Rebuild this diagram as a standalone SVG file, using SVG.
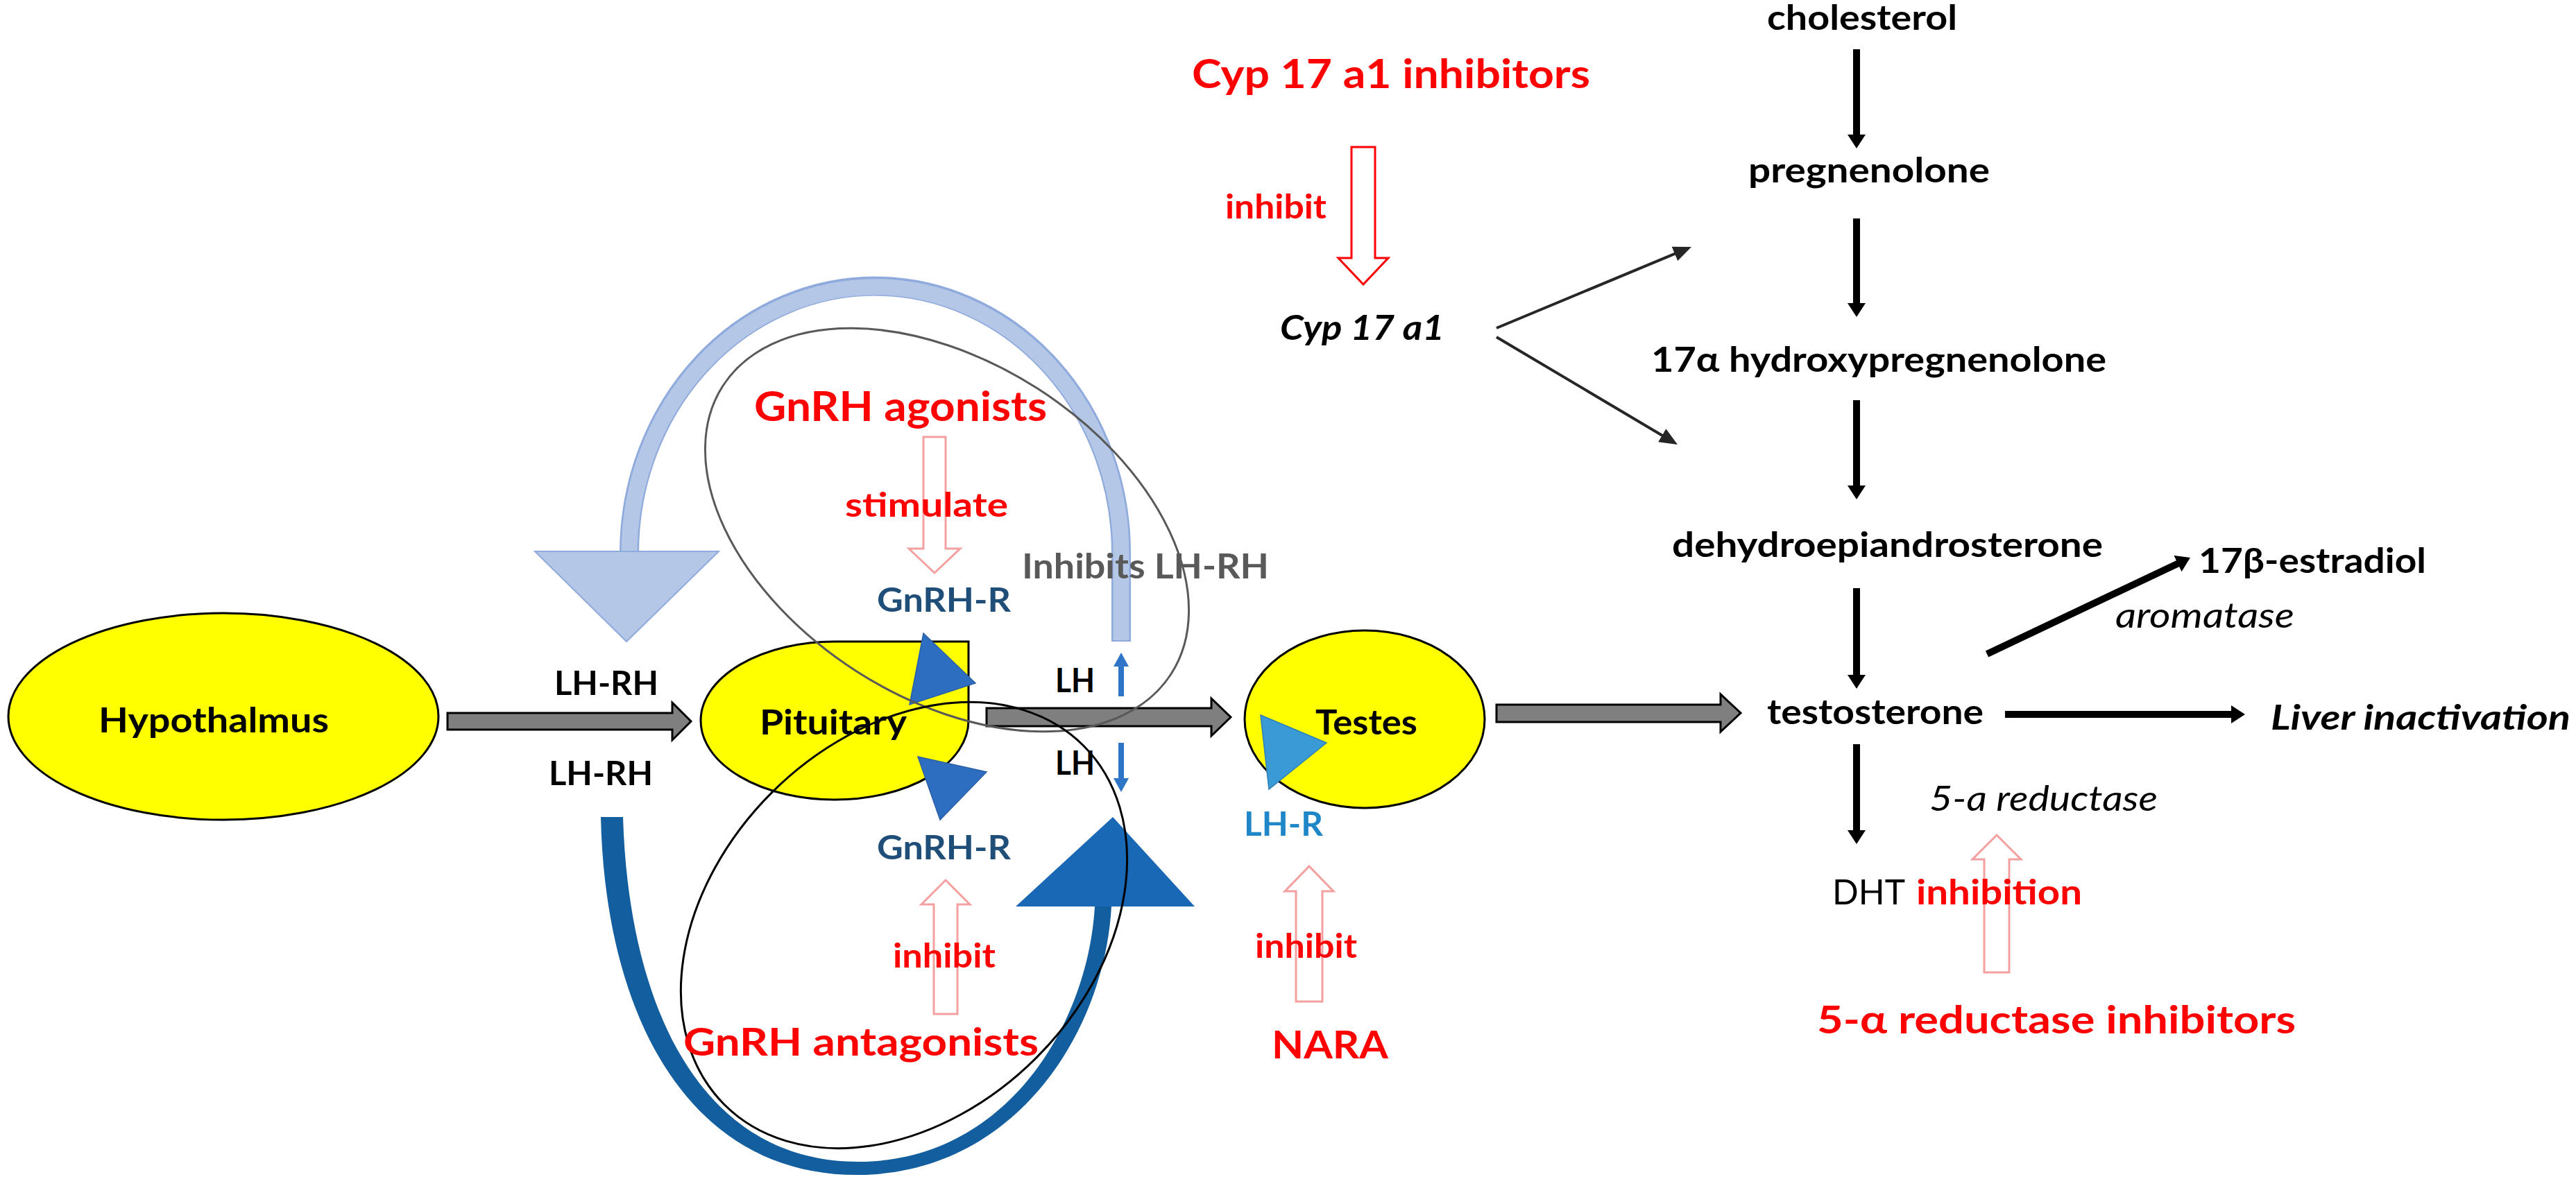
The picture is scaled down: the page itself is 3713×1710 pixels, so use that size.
<svg xmlns="http://www.w3.org/2000/svg" width="3713" height="1710" viewBox="0 0 3713 1710">
<defs>
<style>
text{font-family:Lato,"Liberation Sans",sans-serif;font-weight:700;fill:#000}
.n{font-weight:400}
.i{font-style:italic}
.red{fill:#ff0000}
.gr{fill:#1f4e79}
.lr{fill:#1f87c8}
.gy{fill:#595959}
.yel{fill:#ffff00;stroke:#000;stroke-width:3}
.garr{fill:#7f7f7f;stroke:#000;stroke-width:3;stroke-linejoin:miter}
.hol{fill:#fff;stroke:#f4a0a0;stroke-width:3}
.holr{fill:#fff;stroke:#ff0000;stroke-width:3}
.blk{stroke:#000;stroke-width:10;fill:none}
.thin{stroke:#262626;stroke-width:4;fill:none}
.tri{fill:#2e6ec1;stroke:#2a5fa8;stroke-width:1.5}
</style>
<marker id="mh" markerUnits="userSpaceOnUse" markerWidth="22" markerHeight="26" refX="4" refY="13" orient="auto"><path d="M0,0 L20,13 L0,26 Z" fill="#000"/></marker>
<marker id="mt" markerUnits="userSpaceOnUse" markerWidth="28" markerHeight="22" refX="2" refY="11" orient="auto"><path d="M0,0 L26,11 L0,22 Z" fill="#262626"/></marker>
</defs>
<rect width="3713" height="1710" fill="#fff"/>

<g id="connectors">
  <!-- light blue feedback arc -->
  <path d="M907 795 A354.5 385 0 0 1 1616 800 L1616 925" fill="none" stroke="#8faadc" stroke-width="28"/>
  <path d="M907 797 A354.5 385 0 0 1 1616 800 L1616 923" fill="none" stroke="#b4c7e7" stroke-width="23"/>
  <polygon points="771,795 1036,795 903,925" fill="#b4c7e7" stroke="#8faadc" stroke-width="2"/>
  <!-- dark blue arc -->
  <path d="M866 1178 C872 1460 990 1697 1240 1694 C1462 1691 1592 1490 1602 1307 L1578 1307 C1568 1478 1450 1673 1240 1675 C1010 1677 906 1450 898 1178 Z" fill="#135e9e"/>
  <polygon points="1604,1178 1464,1307 1722,1307" fill="#1868b5"/>
  <!-- gray arrows -->
  <polygon class="garr" points="645,1028 969,1028 969,1013 996,1040 969,1067 969,1052 645,1052"/>
  <polygon class="garr" points="1422,1021 1746,1021 1746,1007 1774,1034 1746,1061 1746,1047 1422,1047"/>
  <polygon class="garr" points="2157,1016 2480,1016 2480,1001 2509,1028 2480,1055 2480,1041 2157,1041"/>
  <!-- small LH arrows -->
  <polygon points="1612,1004 1620,1004 1620,961 1627,961 1616,941 1605,961 1612,961" fill="#2e75c8"/>
  <polygon points="1612,1071 1620,1071 1620,1122 1627,1122 1616,1142 1605,1122 1612,1122" fill="#2e75c8"/>
  <!-- hollow arrows -->
  <polygon class="holr" points="1948,212 1982,212 1982,372 2001,372 1965,410 1929,372 1948,372"/>
  <polygon class="hol" points="1331,630 1363,630 1363,791 1384,791 1347,826 1310,791 1331,791"/>
  <polygon class="hol" points="1346,1462 1380,1462 1380,1304 1398,1304 1363,1269 1328,1304 1346,1304"/>
  <polygon class="hol" points="1868,1444 1906,1444 1906,1285 1922,1285 1887,1249 1852,1285 1868,1285"/>
  <polygon class="hol" points="2860,1402 2896,1402 2896,1239 2913,1239 2878,1204 2843,1239 2860,1239"/>
  <!-- pathway arrows -->
  <line class="blk" x1="2676" y1="71" x2="2676" y2="198" marker-end="url(#mh)"/>
  <line class="blk" x1="2676" y1="315" x2="2676" y2="441" marker-end="url(#mh)"/>
  <line class="blk" x1="2676" y1="577" x2="2676" y2="704" marker-end="url(#mh)"/>
  <line class="blk" x1="2676" y1="848" x2="2676" y2="977" marker-end="url(#mh)"/>
  <line class="blk" x1="2676" y1="1073" x2="2676" y2="1201" marker-end="url(#mh)"/>
  <line class="blk" x1="2864" y1="943" x2="3142.5" y2="810.9" marker-end="url(#mh)"/>
  <line class="blk" x1="2890" y1="1030" x2="3220" y2="1030" marker-end="url(#mh)"/>
  <line class="thin" x1="2157" y1="473" x2="2415.8" y2="365.2" marker-end="url(#mt)"/>
  <line class="thin" x1="2157" y1="486" x2="2397.4" y2="628.7" marker-end="url(#mt)"/>
</g>

<g id="hypothalamus">
  <ellipse class="yel" cx="322" cy="1033" rx="310" ry="149"/>
  <text x="142" y="1056" font-size="50" textLength="332" lengthAdjust="spacingAndGlyphs">Hypothalmus</text>
</g>
<g id="pituitary">
  <path class="yel" d="M1203 925 L1396 925 L1396 1039 A193 114 0 1 1 1203 925 Z"/>
  <text x="1095" y="1059" font-size="50" textLength="212" lengthAdjust="spacingAndGlyphs">Pituitary</text>
</g>
<g id="testes">
  <ellipse class="yel" cx="1967" cy="1037" rx="173" ry="128"/>
  <text x="1896" y="1059" font-size="50" textLength="147" lengthAdjust="spacingAndGlyphs">Testes</text>
</g>

<g id="receptors">
  <polygon class="tri" points="1331,913 1406,985 1311,1016"/>
  <polygon class="tri" points="1323,1091 1422,1113 1355,1182"/>
  <polygon points="1817,1031 1912,1071 1829,1138" fill="#3a9ad6" stroke="#2e7fb8" stroke-width="1.5"/>
</g>

<g id="loops" fill="none">
  <ellipse cx="1365" cy="764" rx="384" ry="242" transform="rotate(32.7 1365 764)" stroke="#595959" stroke-width="3"/>
  <ellipse cx="1303" cy="1334" rx="366" ry="270" transform="rotate(-45 1303 1334)" stroke="#000" stroke-width="3"/>
</g>

<g id="labels">
  <text x="799" y="1002" font-size="48" textLength="150" lengthAdjust="spacingAndGlyphs">LH-RH</text>
  <text x="791" y="1132" font-size="48" textLength="150" lengthAdjust="spacingAndGlyphs">LH-RH</text>
  <text x="1521" y="998" font-size="48" textLength="57" lengthAdjust="spacingAndGlyphs">LH</text>
  <text x="1521" y="1117" font-size="48" textLength="57" lengthAdjust="spacingAndGlyphs">LH</text>
  <text class="gr" x="1264" y="882" font-size="48" textLength="193" lengthAdjust="spacingAndGlyphs">GnRH-R</text>
  <text class="gr" x="1264" y="1239" font-size="48" textLength="193" lengthAdjust="spacingAndGlyphs">GnRH-R</text>
  <text class="gy" x="1473" y="834" font-size="50" textLength="356" lengthAdjust="spacingAndGlyphs">Inhibits LH-RH</text>
  <text class="red" x="1087" y="607" font-size="60" textLength="422" lengthAdjust="spacingAndGlyphs">GnRH agonists</text>
  <text class="red" x="1218" y="745" font-size="48" textLength="235" lengthAdjust="spacingAndGlyphs">stimulate</text>
  <text class="red" x="1287" y="1395" font-size="48" textLength="148" lengthAdjust="spacingAndGlyphs">inhibit</text>
  <text class="red" x="985" y="1522" font-size="56" textLength="512" lengthAdjust="spacingAndGlyphs">GnRH antagonists</text>
  <text class="lr" x="1793" y="1205" font-size="48" textLength="114" lengthAdjust="spacingAndGlyphs">LH-R</text>
  <text class="red" x="1809" y="1381" font-size="48" textLength="147" lengthAdjust="spacingAndGlyphs">inhibit</text>
  <text class="red" x="1833" y="1526" font-size="56" textLength="168" lengthAdjust="spacingAndGlyphs">NARA</text>
  <text class="red" x="1718" y="127" font-size="57" textLength="574" lengthAdjust="spacingAndGlyphs">Cyp 17 a1 inhibitors</text>
  <text class="red" x="1766" y="315" font-size="48" textLength="146" lengthAdjust="spacingAndGlyphs">inhibit</text>
  <text class="i" x="1845" y="490" font-size="50" textLength="237" lengthAdjust="spacingAndGlyphs">Cyp 17 a1</text>
  <text x="2547" y="43" font-size="50" textLength="274" lengthAdjust="spacingAndGlyphs">cholesterol</text>
  <text x="2520" y="263" font-size="50" textLength="348" lengthAdjust="spacingAndGlyphs">pregnenolone</text>
  <text x="2380" y="536" font-size="50" textLength="656" lengthAdjust="spacingAndGlyphs">17α hydroxypregnenolone</text>
  <text x="2410" y="803" font-size="50" textLength="621" lengthAdjust="spacingAndGlyphs">dehydroepiandrosterone</text>
  <text x="2547" y="1044" font-size="50" textLength="312" lengthAdjust="spacingAndGlyphs">testosterone</text>
  <text x="3169" y="826" font-size="50" textLength="328" lengthAdjust="spacingAndGlyphs">17β-estradiol</text>
  <text class="i n" x="3049" y="905" font-size="50" textLength="258" lengthAdjust="spacingAndGlyphs">aromatase</text>
  <text class="i" x="3273" y="1052" font-size="50" textLength="432" lengthAdjust="spacingAndGlyphs">Liver inactivation</text>
  <text class="i n" x="2781" y="1169" font-size="50" textLength="329" lengthAdjust="spacingAndGlyphs">5-a reductase</text>
  <text class="n" x="2641" y="1304" font-size="50" textLength="105" lengthAdjust="spacingAndGlyphs">DHT</text>
  <text class="red" x="2762" y="1304" font-size="50" textLength="239" lengthAdjust="spacingAndGlyphs">inhibition</text>
  <text class="red" x="2619" y="1490" font-size="56" textLength="690" lengthAdjust="spacingAndGlyphs">5-α reductase inhibitors</text>
</g>
</svg>
